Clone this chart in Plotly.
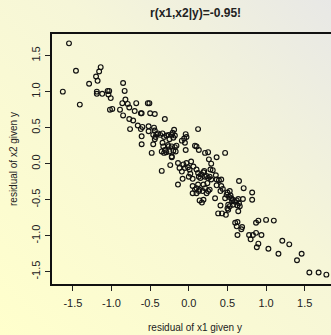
import base64
import plotly.graph_objects as go

# residual of x1 given y
x_res = [
    -1.55, -1.63, -1.46, -1.41, -1.29, -1.20, -1.18, -1.16, -1.14, -1.19, -1.19, -1.12,
    -1.05, -1.03, -1.04, -1.01, -1.02, -0.99,
    -0.85, -0.83, -0.82, -0.86, -0.79, -0.77, -0.68, -0.89, -0.85, -0.70, -0.62, -0.61,
    -0.53, -0.51, -0.50, -0.44, -0.77, -0.72, -0.76, -0.66, -0.62, -0.60, -0.61, -0.61,
    -0.52, -0.52,
    -0.31, -0.45, -0.44, -0.42, -0.44, -0.46, -0.48, -0.35, -0.34, -0.19, -0.25, -0.22,
    -0.26, -0.31, -0.29, -0.20, -0.18, -0.16, -0.22, -0.24, -0.35, -0.14, -0.12, -0.09,
    -0.14, -0.08,
    -0.46, -0.43, -0.40, -0.37, -0.34, -0.32, -0.29, -0.26, -0.20, -0.18, -0.21,
    -0.33, -0.27, -0.22, -0.32, -0.25, -0.17, -0.22,
    -0.09, -0.06, -0.04, -0.05, -0.03, -0.04,
    0.08, 0.10, 0.12, 0.13,
    -0.07, -0.03, -0.05, -0.01, 0.01, 0.06, 0.03, 0.00, 0.02, 0.05, 0.05,
    0.10, 0.13, 0.20, 0.23, 0.21, 0.25, 0.14, 0.17, 0.19,
    0.10, 0.12, 0.13, 0.15, 0.16, 0.19, 0.21, 0.25, 0.27, 0.29, 0.24, 0.19, 0.21, 0.25,
    0.27, 0.23, 0.18, 0.14, 0.12, 0.08, 0.05, 0.10,
    0.26, 0.29, 0.28, 0.31,
    0.36, 0.47, 0.35, 0.36, 0.39, 0.42, 0.36, 0.42, 0.44, 0.41, 0.34, 0.41, 0.47, 0.50,
    0.52, 0.54, 0.55, 0.57, 0.60, 0.64, 0.63, 0.66, 0.70, 0.71, 0.65, 0.82, 0.82, 0.65,
    0.51, 0.50, 0.57, 0.64, 0.53, 0.49, 0.56, 0.62, 0.38, 0.43, 0.48, 0.53, 0.51, 0.60,
    0.63, 0.69, 0.62, 0.68, 0.63, 0.78, 0.80, 0.83, 0.87, 0.87, 0.90,
    0.94, 1.00, 1.10, 0.90, 0.88, 1.03, 1.16, 1.21, 1.30, 1.40, 1.46, 1.56, 1.68, 1.78,
]

# residual of x2 given y
y_res = [
    1.67, 1.00, 1.29, 0.82, 1.11, 1.21, 1.15, 1.28, 1.34, 1.00, 0.97, 0.97,
    1.01, 1.01, 0.96, 0.91, 0.75, 0.76,
    1.12, 1.01, 0.89, 0.84, 0.83, 0.78, 0.84, 0.75, 0.67, 0.73, 0.70, 0.70,
    0.84, 0.84, 0.70, 0.69, 0.62, 0.60, 0.48, 0.53, 0.48, 0.51, 0.38, 0.27,
    0.52, 0.45,
    0.62, 0.50, 0.46, 0.41, 0.34, 0.27, 0.15, 0.17, 0.29, 0.47, 0.34, 0.40,
    0.24, 0.19, 0.16, 0.18, 0.23, 0.25, 0.09, -0.02, -0.10, 0.01, -0.06, -0.11,
    -0.29, -0.21,
    0.40, 0.37, 0.42, 0.40, 0.42, 0.37, 0.39, 0.40, 0.36, 0.39, 0.43,
    0.24, 0.26, 0.24, 0.15, 0.17, 0.17, 0.10,
    0.32, 0.35, 0.41, 0.29, 0.37, 0.19,
    0.25, 0.24, 0.48, 0.19,
    -0.01, 0.01, -0.06, -0.05, -0.08, -0.04, 0.03, -0.18, -0.14, -0.21, -0.31,
    -0.34, -0.38, -0.10, -0.17, 0.15, 0.16, -0.51, -0.54, -0.50,
    -0.08, -0.13, -0.18, -0.20, -0.15, -0.12, -0.18, -0.20, -0.18, -0.22, -0.27, -0.29,
    -0.34, -0.38, -0.36, -0.41, -0.38, -0.36, -0.29, -0.36, -0.41, -0.41,
    0.06, 0.00, -0.08, -0.09,
    0.09, 0.15, -0.16, -0.22, -0.23, -0.22, -0.30, -0.31, -0.35, -0.38, -0.48, -0.58,
    -0.48, -0.40, -0.46, -0.44, -0.48, -0.50, -0.53, -0.49, -0.58, -0.59, -0.49, -0.34,
    -0.24, -0.40, -0.50, -0.55, -0.57, -0.62, -0.57, -0.66, -0.38, -0.43, -0.52, -0.51,
    -0.69, -0.69, -0.71, -0.59, -0.64, -0.82, -0.81, -0.88, -0.87, -0.91, -0.99, -0.99,
    -1.05, -0.99, -0.96, -0.82, -0.79,
    -0.99, -0.78, -0.79, -1.11, -1.16, -1.18, -1.25, -1.07, -1.12, -1.34, -1.25, -1.51,
    -1.51, -1.54,
]

x_ticks = [-1.5, -1.0, -0.5, 0.0, 0.5, 1.0, 1.5]
y_ticks = [-1.5, -1.0, -0.5, 0.0, 0.5, 1.0, 1.5]
x_tick_text = ["-1.5", "-1.0", "-0.5", "0.0", "0.5", "1.0", "1.5"]
y_tick_text = ["-1.5", "-1.0", "-0.5", "0.0", "0.5", "1.0", "1.5"]

W, H = 331, 335
ML, MR, MT, MB = 52, 0, 34, 51
PW, PH = W - ML - MR, H - MT - MB

svg = f'''<svg xmlns="http://www.w3.org/2000/svg" width="{W}" height="{H}" preserveAspectRatio="none">
<defs><linearGradient id="g" x1="1" y1="0" x2="0" y2="1">
<stop offset="0" stop-color="#E8E8E6"/>
<stop offset="0.4" stop-color="#F6F6D8"/>
<stop offset="1" stop-color="#FFFFCC"/>
</linearGradient></defs>
<rect width="{W}" height="{H}" fill="url(#g)"/></svg>'''
bg_src = "data:image/svg+xml;base64," + base64.b64encode(svg.encode()).decode()

fig = go.Figure()
fig.add_trace(go.Scatter(
    x=x_res, y=y_res, mode="markers",
    marker=dict(symbol="circle-open", size=4.8, color="#111111",
                line=dict(width=1.15, color="#111111")),
    showlegend=False, hoverinfo="skip",
))

font_family = "Liberation Sans, Arial, sans-serif"

fig.update_layout(
    width=W, height=H,
    margin=dict(l=ML, r=MR, t=MT, b=MB, pad=0, autoexpand=False),
    paper_bgcolor="#FBFBD4",
    plot_bgcolor="rgba(0,0,0,0)",
    font=dict(family=font_family, size=11, color="#222222"),
    images=[dict(source=bg_src, xref="paper", yref="paper",
                 x=-ML / PW, y=1 + MT / PH, sizex=W / PW, sizey=H / PH,
                 xanchor="left", yanchor="top", sizing="stretch", layer="below")],
    xaxis=dict(range=[-1.77, 1.84], tickvals=x_ticks, ticktext=x_tick_text,
               ticks="outside", ticklen=5, tickwidth=1, tickcolor="#222222",
               showline=True, linecolor="#111111", linewidth=1.5, mirror=True,
               showgrid=False, zeroline=False, ticklabelstandoff=3, automargin=False,
               tickfont=dict(size=11, color="#222222")),
    yaxis=dict(range=[-1.67, 1.80], tickvals=y_ticks, ticktext=y_tick_text,
               ticks="outside", ticklen=5, tickwidth=1, tickcolor="#222222",
               showline=True, linecolor="#111111", linewidth=1.5, mirror=False,
               showgrid=False, zeroline=False, tickangle=-90, ticklabelstandoff=1,
               automargin=False, tickfont=dict(size=11, color="#222222")),
    annotations=[
        dict(text="<b>r(x1,x2|y)=-0.95!</b>", xref="paper", yref="paper",
             x=(195 - ML) / PW, y=1 + (MT - 13) / PH, xanchor="center", yanchor="middle",
             showarrow=False, font=dict(size=12, color="#222222", family=font_family)),
        dict(text="residual of x1 given y", xref="paper", yref="paper",
             x=(195 - ML) / PW, y=-(327 - (MT + PH)) / PH, xanchor="center", yanchor="middle",
             showarrow=False, font=dict(size=10, color="#222222", family=font_family)),
        dict(text="residual of x2 given y", xref="paper", yref="paper",
             x=-(ML - 13) / PW, y=(MT + PH - 159) / PH, xanchor="center", yanchor="middle",
             textangle=-90, showarrow=False,
             font=dict(size=10, color="#222222", family=font_family)),
    ],
)

fig.write_html("out.html",
               config={"displayModeBar": False},
               post_script="document.body.style.margin='0';document.body.style.padding='0';document.body.style.overflow='hidden';")
